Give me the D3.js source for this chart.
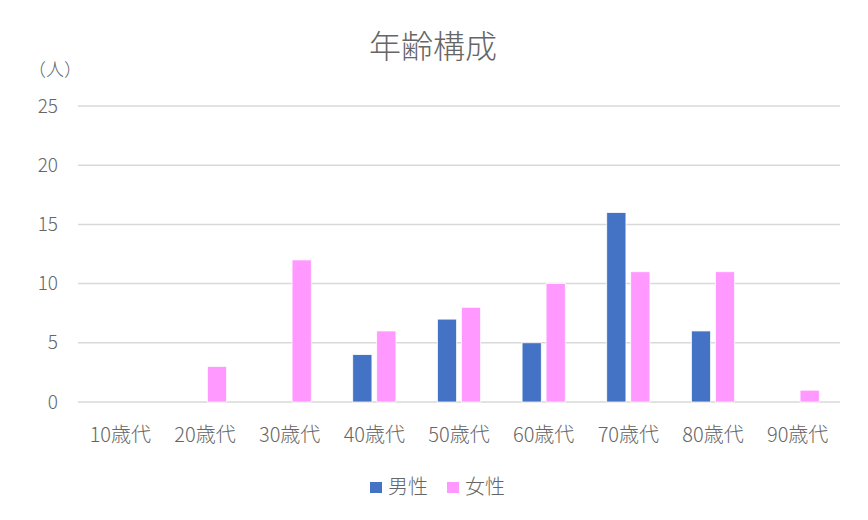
<!DOCTYPE html>
<html><head><meta charset="utf-8">
<script src="https://cdn.jsdelivr.net/npm/d3@7"></script>
<style>body{margin:0;background:#fff;} svg{display:block;font-family:"Noto Sans CJK JP","Noto Sans",sans-serif;font-weight:300;}</style>
</head><body>
<svg id="c" width="868" height="520"></svg>
<script>
const categories = ["10歳代","20歳代","30歳代","40歳代","50歳代","60歳代","70歳代","80歳代","90歳代"];
const seriesNames = ["男性","女性"];
const maleValues = [0,0,0,4,7,5,16,6,0];
const femaleValues = [0,3,12,6,8,10,11,11,1];
const yTicks = [0,5,10,15,20,25];
const colors = ["#4472C4","#FF99FF"];

const svg = d3.select("#c");
const plotLeft = 78, plotRight = 840, plotTop = 106, plotBottom = 402;
const x0 = d3.scaleBand().domain(categories).range([plotLeft, plotRight]).padding(0);
const bw = x0.bandwidth();
const x1 = d3.scaleBand().domain(seriesNames).range([bw*0.245, bw*0.755]).paddingInner(0.2);
const y = d3.scaleLinear().domain([0,25]).range([plotBottom, plotTop]);
const textColor = "#666666";

// gridlines
svg.append("g").selectAll("line").data(yTicks).join("line")
  .attr("x1", plotLeft).attr("x2", plotRight)
  .attr("y1", d=>y(d)).attr("y2", d=>y(d))
  .attr("stroke", "#d9d9d9").attr("stroke-width", 1.5);

// y tick labels
svg.append("g").selectAll("text").data(yTicks).join("text")
  .attr("x", 58).attr("y", d=>y(d)).attr("dy","0.35em")
  .attr("text-anchor","end").attr("fill",textColor).attr("font-size",19)
  .text(d=>d);

// bars
const data = categories.map((c,i)=>({cat:c, vals:[maleValues[i], femaleValues[i]]}));
const groups = svg.append("g").selectAll("g").data(data).join("g")
  .attr("transform", d=>`translate(${x0(d.cat)},0)`);
groups.selectAll("rect").data(d=>d.vals.map((v,j)=>({s:seriesNames[j], v, j})).filter(e=>e.v>0)).join("rect")
  .attr("x", e=>x1(e.s)).attr("width", x1.bandwidth())
  .attr("y", e=>y(e.v)).attr("height", e=>y(0)-y(e.v))
  .attr("fill", e=>colors[e.j]).attr("stroke","#fff").attr("stroke-width",0.75);

// x labels
svg.append("g").selectAll("text").data(categories).join("text")
  .attr("x", d=>x0(d)+bw/2).attr("y", 435).attr("dy","0.35em")
  .attr("text-anchor","middle").attr("fill",textColor).attr("font-size",20)
  .text(d=>d);

// title
svg.append("text").attr("x", 433).attr("y", 47).attr("dy","0.35em")
  .attr("text-anchor","middle").attr("fill",textColor).attr("font-size",32)
  .text("年齢構成");

// unit label
svg.append("text").attr("x", 55).attr("y", 70).attr("dy","0.35em")
  .attr("text-anchor","middle").attr("fill",textColor).attr("font-size",18)
  .text("（人）");

// legend
const legX = [370, 447];
seriesNames.forEach((s,i)=>{
  svg.append("rect").attr("x", legX[i]).attr("y", 482).attr("width",12).attr("height",11).attr("fill",colors[i]);
  svg.append("text").attr("x", legX[i]+18).attr("y", 487).attr("dy","0.35em")
    .attr("fill",textColor).attr("font-size",20).text(s);
});
</script>
</body></html>
